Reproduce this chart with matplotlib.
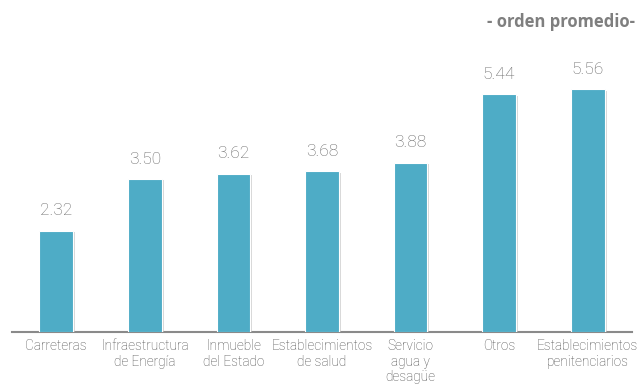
import matplotlib.pyplot as plt
import matplotlib.patheffects as pe

categorias = ["Carreteras", "Infraestructura\nde Energía", "Inmueble\ndel Estado",
              "Establecimientos\nde salud", "Servicio\nagua y\ndesagüe", "Otros",
              "Establecimientos\npenitenciarios"]
valores = [2.32, 3.50, 3.62, 3.68, 3.88, 5.44, 5.56]

W, H = 642, 385
fig = plt.figure(figsize=(W / 100, H / 100), dpi=100)
ax = fig.add_axes([12 / W, 53 / H, 620 / W, 249 / H])

x = range(len(valores))
barras = ax.bar(x, valores, width=0.38, color="#4eacc6", edgecolor="white", linewidth=0.8, zorder=3)
for b in barras:
    b.set_path_effects([pe.SimplePatchShadow(offset=(1.5, -1), shadow_rgbFace="#bdbdbd", alpha=0.6),
                        pe.Normal()])

for i, v in enumerate(valores):
    ax.annotate(f"{v:.2f}", (i, v), xytext=(0, 9), textcoords="offset points",
                ha="center", va="bottom", fontsize=12.5, color="#666666",
                family=["Roboto", "DejaVu Sans"], fontweight="light")

ax.set_xlim(-0.5, 6.5)
ax.set_ylim(0, 5.70)
ax.set_xticks(list(x))
ax.set_xticklabels(categorias, fontsize=9.8, color="#4d4d4d",
                   family=["Roboto", "DejaVu Sans"], fontweight="light", linespacing=1.15)
ax.tick_params(axis="x", length=0, pad=5)
ax.set_yticks([])
for lado in ["top", "right", "left"]:
    ax.spines[lado].set_visible(False)
ax.spines["bottom"].set_color("#8a8a8a")
ax.spines["bottom"].set_linewidth(1.5)

fig.text(635 / W, 1 - 22 / H, "- orden promedio-", ha="right", va="center",
         fontsize=12, fontweight="bold", color="#7f7f7f", family=["Open Sans", "DejaVu Sans"])

fig.savefig("out.png", dpi=100)
